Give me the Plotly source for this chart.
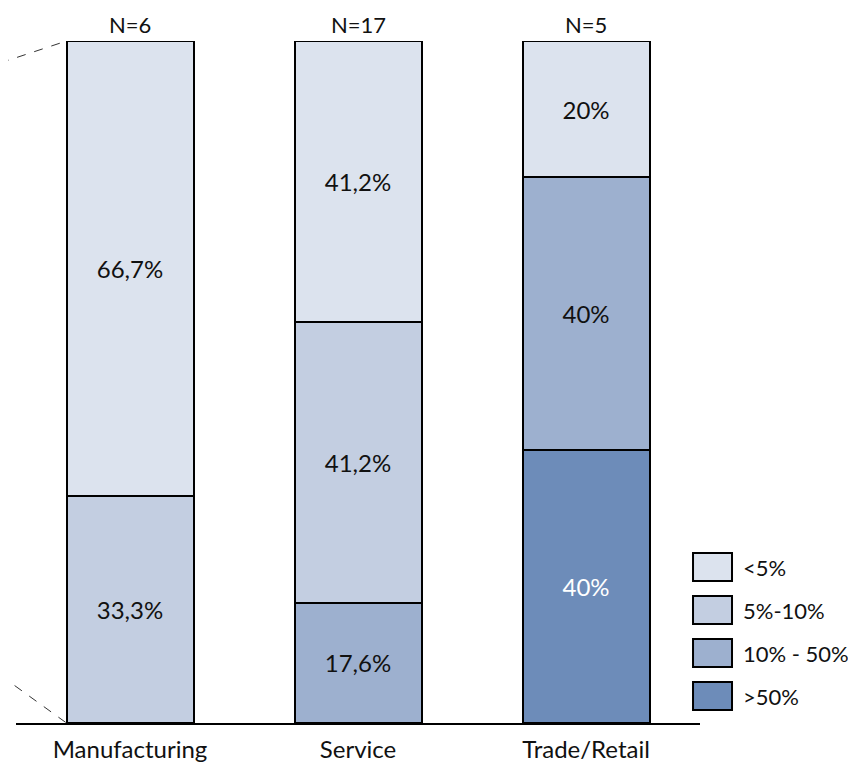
import plotly.graph_objects as go

categories = ["Manufacturing", "Service", "Trade/Retail"]
sample_sizes = [6, 17, 5]

# share of firms per band (bottom of the stack first)
bands = [">50%", "10% - 50%", "5%-10%", "<5%"]
values = {
    ">50%":      [None, None, 40.0],
    "10% - 50%": [None, 17.6, 40.0],
    "5%-10%":    [33.3, 41.2, None],
    "<5%":       [66.7, 41.2, 20.0],
}
colors = {
    ">50%": "#6D8CB9",
    "10% - 50%": "#9DB0CF",
    "5%-10%": "#C3CEE1",
    "<5%": "#DCE3EE",
}
text_colors = {">50%": "white", "10% - 50%": "#111", "5%-10%": "#111", "<5%": "#111"}

FONT = "Lato"
FS = 24
bar_width = 0.557


def fmt(v):
    if v is None:
        return ""
    return f"{v:g}".replace(".", ",") + "%"


fig = go.Figure()
for b in bands:
    fig.add_trace(go.Bar(
        x=list(range(len(categories))), y=values[b], name=b,
        width=bar_width,
        marker=dict(color=colors[b], line=dict(color="black", width=2)),
        text=[fmt(v) for v in values[b]],
        textposition="inside", insidetextanchor="middle", textangle=0,
        textfont=dict(family=FONT, size=FS, color=text_colors[b]),
        showlegend=False,
    ))

# N= labels above bars
for i, n in enumerate(sample_sizes):
    fig.add_annotation(x=i, y=1, xref="x", yref="paper", text=f"N={n}",
                       showarrow=False, yanchor="bottom", yshift=1,
                       font=dict(family=FONT, size=22, color="#111"))

# dashed connector lines from the left edge of the first bar
edge = (0 - bar_width / 2 + 0.5) / 3
fig.add_shape(type="line", xref="paper", yref="paper", x0=-16 / 684, y0=660 / 682,
              x1=edge, y1=1.0, line=dict(color="#333", width=1, dash="dash"))
fig.add_shape(type="line", xref="paper", yref="paper", x0=-16 / 684, y0=48 / 682,
              x1=edge, y1=0.0, line=dict(color="#333", width=1, dash="dash"))

# hand-drawn legend (top band first)
for k, b in enumerate(reversed(bands)):
    yc = (723 - (567 + 43 * k)) / 682
    fig.add_shape(type="rect", xref="paper", yref="paper",
                  x0=0.9898, x1=1.0468, y0=yc - 14 / 682, y1=yc + 14 / 682,
                  fillcolor=colors[b], line=dict(color="black", width=2))
    fig.add_annotation(x=1.0629, y=yc, xref="paper", yref="paper", text=b,
                       showarrow=False, xanchor="left", yanchor="middle", xshift=-2,
                       font=dict(family=FONT, size=22, color="#111"))

fig.update_layout(
    barmode="stack",
    width=848, height=754,
    margin=dict(l=8, r=156, t=33, b=39),
    plot_bgcolor="white", paper_bgcolor="white",
    uniformtext=dict(minsize=FS, mode="show"),
    xaxis=dict(range=[-0.5, 2.5], tickvals=list(range(len(categories))), ticktext=categories,
               showline=True, linecolor="black", linewidth=2, showgrid=False, zeroline=False,
               ticks="", ticklabelstandoff=4,
               tickfont=dict(family=FONT, size=FS, color="#111"), automargin=False),
    yaxis=dict(range=[0, 100], visible=False, automargin=False),
)

fig.write_html("out.html")
